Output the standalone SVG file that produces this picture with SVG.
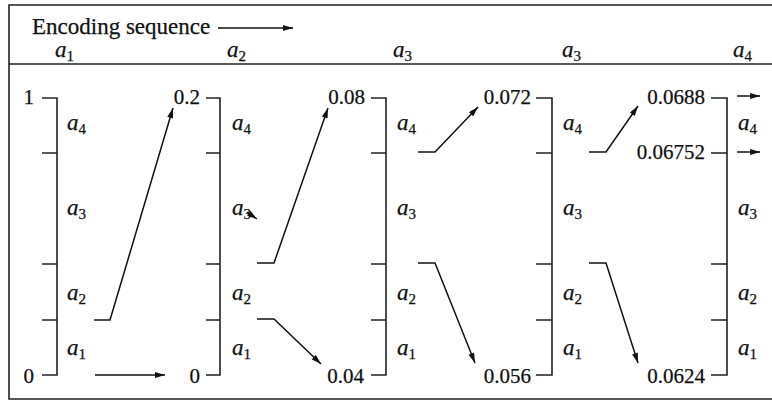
<svg xmlns="http://www.w3.org/2000/svg" width="772" height="401" viewBox="0 0 772 401">
<defs>
<marker id="ah" viewBox="0 0 10 6" refX="10" refY="3" markerWidth="11" markerHeight="6" markerUnits="userSpaceOnUse" orient="auto">
<path d="M0,0 L10,3 L0,6 Z" fill="#111"/>
</marker>
<style>
text{font-family:'Liberation Serif','Times New Roman',Times,serif;fill:#111;stroke:#111;stroke-width:0.25}
.frame{fill:none;stroke:#222;stroke-width:1.6}
.scale{fill:none;stroke:#222;stroke-width:1.6}
.conn{fill:none;stroke:#111;stroke-width:1.5;marker-end:url(#ah)}
.num{font-size:21px;text-anchor:end}
.sym{font-size:23px;font-style:italic}
.sub{font-size:15px;font-style:normal}
.title{font-size:23px}
</style>
</defs>
<rect width="772" height="401" fill="#fff"/>
<g id="frame">
<path class="frame" d="M772 5 H9 V399 H772"/>
<path class="frame" d="M9 64 H772"/>
</g>
<g id="header" font-family="Liberation Serif, serif">
<text class="title" x="32" y="34">Encoding sequence</text>
<text class="sym" x="55" y="57">a<tspan class="sub" dy="4">1</tspan></text>
<text class="sym" x="227" y="57">a<tspan class="sub" dy="4">2</tspan></text>
<text class="sym" x="393" y="57">a<tspan class="sub" dy="4">3</tspan></text>
<text class="sym" x="562" y="57">a<tspan class="sub" dy="4">3</tspan></text>
<text class="sym" x="733" y="57">a<tspan class="sub" dy="4">4</tspan></text>
</g>
<g id="scale1" font-family="Liberation Serif, serif">
<path class="scale" d="M42 98 H57 V375 H42 M42 153 H57 M42 264 H57 M42 320 H57"/>
<text class="num" x="34" y="104">1</text>
<text class="num" x="34" y="383">0</text>
<text class="sym" x="67" y="130">a<tspan class="sub" dy="4">4</tspan></text>
<text class="sym" x="67" y="215">a<tspan class="sub" dy="4">3</tspan></text>
<text class="sym" x="67" y="300">a<tspan class="sub" dy="4">2</tspan></text>
<text class="sym" x="67" y="355">a<tspan class="sub" dy="4">1</tspan></text>
</g>
<g id="scale2" font-family="Liberation Serif, serif">
<path class="scale" d="M206 98 H220 V375 H206 M206 153 H220 M206 264 H220 M206 320 H220"/>
<text class="num" x="200" y="104">0.2</text>
<text class="num" x="200" y="383">0</text>
<text class="sym" x="232" y="130">a<tspan class="sub" dy="4">4</tspan></text>
<text class="sym" x="232" y="215">a<tspan class="sub" dy="4">3</tspan></text>
<text class="sym" x="232" y="300">a<tspan class="sub" dy="4">2</tspan></text>
<text class="sym" x="232" y="355">a<tspan class="sub" dy="4">1</tspan></text>
</g>
<g id="scale3" font-family="Liberation Serif, serif">
<path class="scale" d="M371 98 H386 V375 H371 M371 153 H386 M371 264 H386 M371 320 H386"/>
<text class="num" x="365" y="104">0.08</text>
<text class="num" x="364" y="383">0.04</text>
<text class="sym" x="397" y="130">a<tspan class="sub" dy="4">4</tspan></text>
<text class="sym" x="397" y="215">a<tspan class="sub" dy="4">3</tspan></text>
<text class="sym" x="397" y="300">a<tspan class="sub" dy="4">2</tspan></text>
<text class="sym" x="397" y="355">a<tspan class="sub" dy="4">1</tspan></text>
</g>
<g id="scale4" font-family="Liberation Serif, serif">
<path class="scale" d="M536 98 H552 V375 H536 M536 153 H552 M536 264 H552 M536 320 H552"/>
<text class="num" x="531" y="104">0.072</text>
<text class="num" x="531" y="383">0.056</text>
<text class="sym" x="563" y="130">a<tspan class="sub" dy="4">4</tspan></text>
<text class="sym" x="563" y="215">a<tspan class="sub" dy="4">3</tspan></text>
<text class="sym" x="563" y="300">a<tspan class="sub" dy="4">2</tspan></text>
<text class="sym" x="563" y="355">a<tspan class="sub" dy="4">1</tspan></text>
</g>
<g id="scale5" font-family="Liberation Serif, serif">
<path class="scale" d="M711 98 H727 V375 H711 M711 153 H727 M711 264 H727 M711 320 H727"/>
<text class="num" x="705" y="104">0.0688</text>
<text class="num" x="705" y="159">0.06752</text>
<text class="num" x="705" y="383">0.0624</text>
<text class="sym" x="738" y="130">a<tspan class="sub" dy="4">4</tspan></text>
<text class="sym" x="738" y="215">a<tspan class="sub" dy="4">3</tspan></text>
<text class="sym" x="738" y="300">a<tspan class="sub" dy="4">2</tspan></text>
<text class="sym" x="738" y="355">a<tspan class="sub" dy="4">1</tspan></text>
</g>
<g id="connectors">
<path class="conn" d="M218 28 H293"/>
<path class="conn" d="M95 375 H165"/>
<path class="conn" d="M94 320 H110 L173 108"/>
<path class="conn" d="M247 212 L257 219"/>
<path class="conn" d="M257 263 H274 L328 108"/>
<path class="conn" d="M257 319 H274 L321 364"/>
<path class="conn" d="M418 152 H435 L478 107"/>
<path class="conn" d="M418 263 H435 L475 363"/>
<path class="conn" d="M589 152 H606 L638 106"/>
<path class="conn" d="M589 263 H606 L638 363"/>
<path class="conn" d="M737 96 H760"/>
<path class="conn" d="M737 152 H760"/>
</g>
</svg>
